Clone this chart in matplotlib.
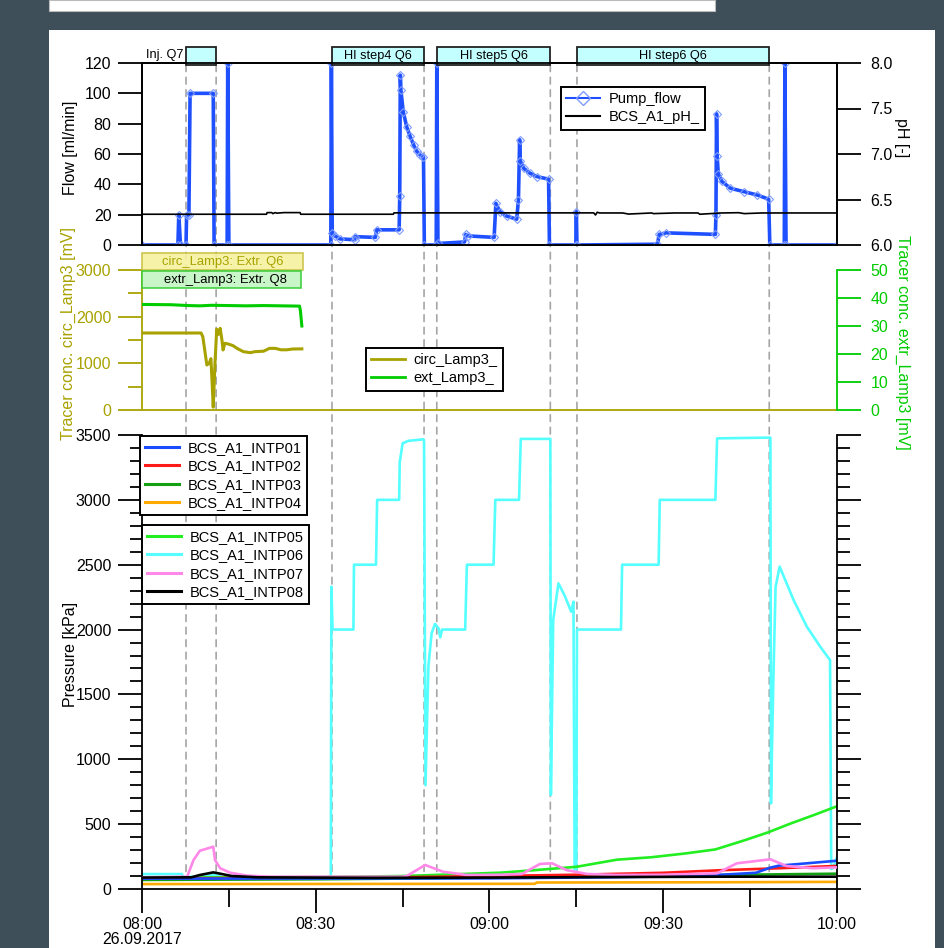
import matplotlib
matplotlib.use('Agg')
import matplotlib.pyplot as plt
from matplotlib.patches import Rectangle, ConnectionPatch
from matplotlib.lines import Line2D
from matplotlib.transforms import blended_transform_factory
import matplotlib.ticker as mticker

plt.rcParams['font.family'] = ['Liberation Sans', 'DejaVu Sans']

# ---------------- data (time in minutes after 08:00, 26.09.2017) ----------------
flow_time = [0, 6.2, 6.35, 6.65, 7.6, 7.7, 8.1, 8.3, 12.3, 12.45, 14.7, 14.8, 15.0,
             32.6, 32.7, 32.85, 33.3, 34.2, 36.7, 36.8, 40.3, 40.5, 44.4, 44.5, 44.6,
             44.7, 45.1, 45.7, 46.3, 46.9, 47.4, 48.0, 48.6, 48.75, 50.8, 50.9, 51.1,
             55.7, 55.9, 56.3, 60.8, 61.1, 61.8, 63.0, 64.7, 65.0, 65.2, 65.3, 65.9,
             67.0, 68.2, 70.2, 70.35, 74.9, 75.0, 75.1, 89.0, 89.3, 90.5, 99.0, 99.1,
             99.2, 99.3, 99.5, 100.1, 101.6, 103.9, 106.2, 108.2, 108.4, 110.9, 111.0,
             111.2, 120]
flow_value = [0, 0, 20, 0, 0, 20, 20, 100, 100, 0, 0, 120, 0,
              0, 120, 8, 6, 4, 3.5, 5.5, 5, 10, 10, 32, 112,
              102, 88, 78, 71.6, 66, 62, 59.4, 58, 0, 0, 120, 1,
              2, 7, 6, 5, 27.5, 22, 19, 17, 30, 69.4, 55.7, 50.6,
              47.3, 45.1, 43.4, 0, 0, 22, 0, 0.5, 7, 8, 7, 20,
              86.5, 59, 47, 42, 37.4, 35.2, 33, 30.2, 0, 0, 120,
              0, 0]

ph_time = [0, 21.5, 21.6, 22.4, 22.6, 23.0, 23.3, 24.5, 27.3, 27.4, 43.4, 43.5, 78.0, 78.3,
           78.6, 79.0, 83.0, 84.0, 88.0, 88.3, 92.0, 96.0, 96.3, 100.0, 103.0, 104.0, 107.0, 120]
ph_value = [6.338, 6.338, 6.356, 6.356, 6.345, 6.356, 6.350, 6.356, 6.356, 6.338, 6.338, 6.353,
            6.353, 6.33, 6.36, 6.352, 6.352, 6.34, 6.352, 6.345, 6.352, 6.352, 6.338, 6.352,
            6.355, 6.345, 6.352, 6.352]

circ_time = [0, 10.2, 10.5, 11.2, 11.6, 11.9, 12.1, 12.3, 12.6, 12.9, 13.2, 13.5, 13.8, 14.0,
             14.3, 14.9, 15.7, 16.4, 17.5, 18.7, 19.5, 21.0, 22.0, 23.0, 24.0, 25.0, 26.0, 27.6]
circ_value = [1650, 1650, 1570, 964, 1000, 1100, 600, 60, 1000, 1730, 1620, 1750, 1500, 1286,
              1430, 1414, 1380, 1321, 1250, 1229, 1250, 1260, 1321, 1321, 1290, 1290, 1307, 1310]

ext_time = [0, 5, 8, 10, 12, 15, 18, 21, 24, 27.2, 27.35, 27.6]
ext_value = [37.7, 37.6, 37.3, 37.2, 37.4, 37.3, 37.2, 37.3, 37.2, 37.1, 35.5, 30.0]

p1_time = [0, 60, 80, 95, 100, 106, 108.5, 110, 114, 120]
p1_value = [80, 82, 90, 100, 110, 125, 165, 180, 195, 218]
p2_time = [0, 40, 60, 75, 90, 100, 110, 120]
p2_value = [82, 88, 100, 110, 125, 145, 160, 178]
p3_time = [0, 30, 50, 70, 100, 120]
p3_value = [70, 75, 82, 95, 108, 118]
p4_time = [0, 67.8, 68.2, 100, 120]
p4_value = [38, 40, 50, 52, 55]
p5_time = [0, 30, 45, 55, 62, 68, 75, 82, 88, 94, 99, 104, 108, 112, 116, 120]
p5_value = [88, 92, 100, 115, 126, 146, 171, 226, 245, 275, 305, 375, 435, 505, 570, 638]
p6_time = [0, 6.9, 7.1, 10.0, 11.5, 12.8, 14.0, 32.6, 32.7, 32.9, 36.5, 36.6, 40.4, 40.6,
           44.4, 44.5, 45.0, 46.0, 48.6, 48.7, 48.95, 49.45, 50.0, 50.6, 51.2, 51.5, 51.8,
           55.8, 56.1, 60.7, 61.0, 65.1, 65.4, 70.5, 70.6, 71.0, 71.9, 73.0, 74.1, 74.5,
           74.7, 75.0, 75.1, 82.7, 82.9, 89.2, 89.4, 99.0, 99.3, 108.5, 108.6, 109.0, 109.4,
           110.1, 112.5, 114.8, 117.1, 118.8, 119.0, 119.3, 120.0]
p6_value = [115, 115, 92, 95, 110, 105, 90, 90, 2330, 2000, 2000, 2500, 2500, 3000,
            3000, 3290, 3436, 3455, 3467, 3450, 800, 1714, 1971, 2043, 2010, 1940, 2000,
            2000, 2500, 2500, 3000, 3000, 3470, 3470, 725, 2074, 2356, 2260, 2138, 2215,
            150, 150, 2000, 2000, 2500, 2500, 3000, 3000, 3474, 3480, 660, 1600, 2330,
            2485, 2228, 2022, 1868, 1765, 154, 160, 245]
p7_time = [0, 7.8, 8.9, 10.0, 12.3, 12.6, 13.5, 15.2, 18.1, 22.0, 45.0, 45.7, 48.9, 52.0,
           56.1, 62.0, 65.6, 68.7, 70.8, 73.3, 76.8, 82.0, 90.0, 99.3, 102.7, 108.5, 111.3,
           115.9, 120.0]
p7_value = [90, 95, 224, 295, 326, 224, 160, 126, 103, 95, 95, 100, 185, 133,
            108, 110, 116, 193, 198, 146, 116, 108, 110, 121, 198, 229, 177, 160, 167]
p8_time = [0, 8.5, 10.0, 12.3, 13.5, 15.5, 20, 40, 60, 80, 100, 120]
p8_value = [88, 90, 108, 128, 118, 100, 90, 86, 88, 92, 95, 95]

pressure_names = ['BCS_A1_INTP01', 'BCS_A1_INTP02', 'BCS_A1_INTP03', 'BCS_A1_INTP04',
                  'BCS_A1_INTP05', 'BCS_A1_INTP06', 'BCS_A1_INTP07', 'BCS_A1_INTP08']

event_spans = [(7.6, 12.8), (32.8, 48.7), (50.9, 70.5), (75.1, 108.3)]
event_labels = ['', 'HI step4 Q6', 'HI step5 Q6', 'HI step6 Q6']
inj_label = 'Inj. Q7'

flow_ticks = [0, 20, 40, 60, 80, 100, 120]
ph_ticks = [6.0, 6.5, 7.0, 7.5, 8.0]
circ_ticks = [0, 1000, 2000, 3000]
ext_ticks = [0, 10, 20, 30, 40, 50]
time_ticks = [0, 30, 60, 90, 120]
time_labels = ['08:00\n26.09.2017', '08:30', '09:00', '09:30', '10:00']

# ---------------- styles ----------------
FLOW_C = '#1f50ff'
FLOW_MC = '#7f9cff'
OLIVE = '#a8a200'
GREEN = '#00cc00'
p_colors = ['#1a4cff', '#ff1a1a', '#12a012', '#ffaa00', '#22ee22', '#55ffff', '#ff88e8', '#000000']
FS = 11.5

W, H = 944, 948
fig = plt.figure(figsize=(W / 100, H / 100), dpi=100)
fig.patch.set_facecolor('#3e4f59')


def fx(p):
    return p / W


def fy(p):
    return 1 - p / H


fig.add_artist(Rectangle((fx(49), 0), fx(935) - fx(49), fy(30), transform=fig.transFigure,
                         facecolor='white', edgecolor='none', zorder=-3))
fig.add_artist(Rectangle((fx(49), fy(11)), fx(715) - fx(49), 11 / H, transform=fig.transFigure,
                         facecolor='white', edgecolor='#bbbbbb', lw=0.8, zorder=-3))

L, R = 142, 837
ax1 = fig.add_axes([fx(L), fy(245), (R - L) / W, (245 - 63) / H])
ax1b = ax1.twinx()
ax2 = fig.add_axes([fx(L), fy(410), (R - L) / W, (410 - 270) / H])
ax2b = ax2.twinx()
ax3 = fig.add_axes([fx(L), fy(889), (R - L) / W, (889 - 435) / H])
for a in (ax1, ax1b, ax2, ax2b, ax3):
    a.set_facecolor('none')
    a.set_xlim(0, 120)
    for s in a.spines.values():
        s.set_linewidth(1.3)

# ---- top panel ----
ax1.plot(flow_time, flow_value, color=FLOW_C, lw=2.6, marker='D', ms=4, mfc='none',
         mec=FLOW_MC, mew=0.8, zorder=3)
ax1b.plot(ph_time, ph_value, color='black', lw=1.2, zorder=2)
ax1.set_ylim(0, 120)
ax1.set_yticks(flow_ticks)
ax1b.set_ylim(6, 8)
ax1b.set_yticks(ph_ticks)
ax1b.yaxis.set_major_formatter(mticker.FormatStrFormatter('%.1f'))
ax1.tick_params(axis='y', direction='out', length=17, width=1.3, labelsize=FS, pad=5)
ax1b.tick_params(axis='y', direction='out', length=17, width=1.3, labelsize=FS, pad=7)
for a in (ax1, ax1b, ax2, ax2b):
    a.tick_params(axis='x', bottom=False, labelbottom=False, top=False)

trA = blended_transform_factory(ax1.transData, ax1.transAxes)
for (t0, t1), lab in zip(event_spans, event_labels):
    ax1.add_patch(Rectangle((t0, 0.989), t1 - t0, 0.099, transform=trA, facecolor='#c4ffff',
                            edgecolor='#222222', lw=1.3, clip_on=False, zorder=5))
    if lab:
        ax1.text((t0 + t1) / 2, 1.038, lab, transform=trA, ha='center', va='center',
                 fontsize=9.2, zorder=6)
ax1.text(event_spans[0][0] - 0.5, 1.044, inj_label, transform=trA, ha='right', va='center',
         fontsize=9.2)

# ---- middle panel ----
ax2.plot(circ_time, circ_value, color=OLIVE, lw=2.2)
ax2b.plot(ext_time, ext_value, color=GREEN, lw=2.2)
ax2.set_ylim(0, 3000)
ax2.set_yticks(circ_ticks)
ax2.yaxis.set_minor_locator(mticker.MultipleLocator(500))
ax2b.set_ylim(0, 50)
ax2b.set_yticks(ext_ticks)
ax2.spines['top'].set_visible(False)
ax2.spines['right'].set_visible(False)
ax2.spines['left'].set_color(OLIVE)
ax2.spines['bottom'].set_color(OLIVE)
for k in ('top', 'left', 'bottom'):
    ax2b.spines[k].set_visible(False)
ax2b.spines['right'].set_color(GREEN)
ax2.tick_params(axis='y', which='major', length=17, width=1.3, colors=OLIVE, labelsize=FS, pad=5)
ax2.tick_params(axis='y', which='minor', length=10, width=1.3, colors=OLIVE)
ax2b.tick_params(axis='y', which='major', length=17, width=1.3, colors=GREEN, labelsize=FS, pad=7)

trB = blended_transform_factory(ax2.transData, ax2.transAxes)
ax2.add_patch(Rectangle((0, 1.0), 27.8, 0.121, transform=trB, facecolor='#f6f2a0',
                        edgecolor='#c8c040', lw=1.2, alpha=0.9, clip_on=False, zorder=5))
ax2.text(13.9, 1.06, 'circ_Lamp3: Extr. Q6', transform=trB, ha='center', va='center',
         fontsize=9.4, color=OLIVE, zorder=6)
ax2.add_patch(Rectangle((0, 0.871), 27.5, 0.122, transform=trB, facecolor='#c4f5c4',
                        edgecolor='#33cc33', lw=1.2, alpha=0.9, clip_on=False, zorder=5))
ax2.text(14.4, 0.932, 'extr_Lamp3: Extr. Q8', transform=trB, ha='center', va='center',
         fontsize=9.4, color='black', zorder=6)

# ---- bottom panel ----
p_times = [p1_time, p2_time, p3_time, p4_time, p5_time, p6_time, p7_time, p8_time]
p_values = [p1_value, p2_value, p3_value, p4_value, p5_value, p6_value, p7_value, p8_value]
draw_order = [5, 4, 3, 2, 1, 0, 6, 7]
for z, i in enumerate(draw_order):
    ax3.plot(p_times[i], p_values[i], color=p_colors[i], lw=1.9, zorder=2 + z * 0.1)
ax3.set_ylim(0, 3500)
ax3.yaxis.set_major_locator(mticker.MultipleLocator(500))
ax3.yaxis.set_minor_locator(mticker.MultipleLocator(100))
ax3.set_xticks(time_ticks)
ax3.set_xticklabels(time_labels, linespacing=0.95)
ax3.xaxis.set_minor_locator(mticker.FixedLocator([15, 45, 75, 105]))
ax3.spines['top'].set_visible(False)
ax3.tick_params(axis='y', which='both', left=True, right=True, labelright=False)
ax3.tick_params(axis='y', which='major', length=17, width=1.3, labelsize=FS, pad=5)
ax3.tick_params(axis='y', which='minor', length=9, width=1.3)
ax3.tick_params(axis='x', which='major', length=17, width=1.3, labelsize=FS, pad=3.5)
ax3.tick_params(axis='x', which='minor', length=13, width=1.3)

# ---- dashed event lines across the panels ----
for span in event_spans:
    for t in span:
        cp = ConnectionPatch(xyA=(t, 0.99), coordsA=trA, xyB=(t, 100), coordsB=ax3.transData,
                             color='#a5a5a5', lw=1.2, linestyle=(0, (4, 3.5)), zorder=-1,
                             shrinkA=0, shrinkB=0, annotation_clip=False)
        fig.add_artist(cp)

# ---- axis titles ----
fig.text(fx(70), fy(148), 'Flow [ml/min]', rotation=90, ha='center', va='center', fontsize=FS)
fig.text(fx(902), fy(138), 'pH [-]', rotation=270, ha='center', va='center', fontsize=FS)
fig.text(fx(68), fy(333), 'Tracer conc. circ_Lamp3 [mV]', rotation=90, ha='center', va='center',
         fontsize=FS, color=OLIVE)
fig.text(fx(903), fy(342), 'Tracer conc. extr_Lamp3 [mV]', rotation=270, ha='center',
         va='center', fontsize=FS, color=GREEN)
fig.text(fx(70), fy(654), 'Pressure [kPa]', rotation=90, ha='center', va='center', fontsize=FS)

# ---- legends ----
leg_kw = dict(loc='upper left', frameon=True, fancybox=False, edgecolor='black', framealpha=1,
              fontsize=10.5, handlelength=2.3, borderaxespad=0, borderpad=0.35,
              labelspacing=0.3, handletextpad=0.6)
flow_h = Line2D([], [], color=FLOW_C, lw=1.5, marker='D', ms=7, mfc='none', mec=FLOW_MC, mew=1)
ph_h = Line2D([], [], color='black', lw=1.5)
legs = []
legs.append(fig.legend([flow_h, ph_h], ['Pump_flow', 'BCS_A1_pH_'],
                       bbox_to_anchor=(fx(561), fy(87)), **leg_kw))
legs.append(fig.legend([Line2D([], [], color=OLIVE, lw=2), Line2D([], [], color=GREEN, lw=2)],
                       ['circ_Lamp3_', 'ext_Lamp3_'], bbox_to_anchor=(fx(366), fy(348)), **leg_kw))
legs.append(fig.legend([Line2D([], [], color=p_colors[i], lw=2.2) for i in range(4)],
                       pressure_names[:4], bbox_to_anchor=(fx(140), fy(436)), **leg_kw))
legs.append(fig.legend([Line2D([], [], color=p_colors[i], lw=2.2) for i in range(4, 8)],
                       pressure_names[4:], bbox_to_anchor=(fx(142), fy(525)), **leg_kw))
for lg in legs:
    lg.get_frame().set_linewidth(1.4)

fig.savefig('out.png', dpi=100, facecolor=fig.get_facecolor())
